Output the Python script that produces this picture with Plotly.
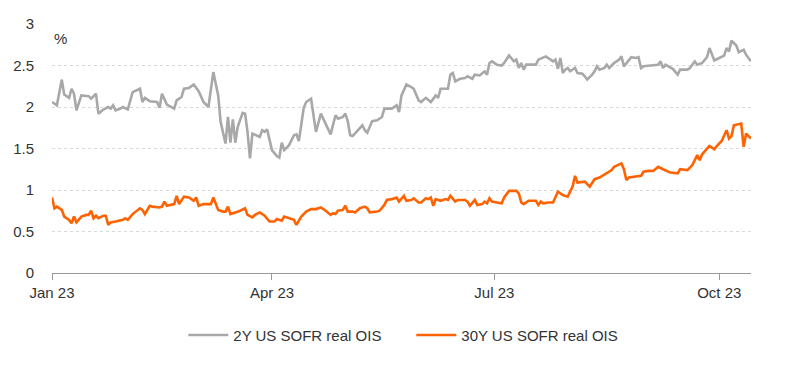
import pandas as pd
import plotly.graph_objects as go

START = pd.Timestamp("2023-01-01")

# 2Y US SOFR real OIS: days since 1 Jan 2023, value (%)
days_2y = [0, 2, 4, 5, 7, 8, 9, 10, 12, 15, 16, 18, 19, 21, 23, 24, 25, 26, 28, 29, 31, 33, 36, 37, 38,
           40, 43, 44, 45, 47, 50, 51, 53, 54, 56, 58, 60, 62, 64, 66, 68, 69, 71, 72, 73, 74, 75, 76, 78,
           79, 80, 81, 82, 84, 85, 86, 87, 88, 89, 90, 92, 93, 94, 95, 97, 99, 100, 101, 103, 104, 106,
           108, 110, 112, 114, 116, 117, 119, 120, 121, 122, 123, 125, 127, 128, 129, 131, 133, 135, 136,
           138, 139, 141, 142, 143, 145, 147, 148, 150, 151, 153, 154, 155, 157, 158, 159, 161, 162, 163,
           164, 165, 167, 169, 170, 172, 173, 175, 176, 177, 178, 179, 180, 182, 184, 185, 187, 189, 190,
           191, 192, 193, 194, 196, 198, 199, 202, 204, 205, 206, 207, 208, 209, 210, 211, 212, 214, 215,
           217, 218, 219, 221, 222, 223, 224, 226, 227, 228, 230, 232, 233, 234, 237, 239, 240, 241, 242,
           245, 248, 249, 250, 251, 253, 254, 256, 257, 260, 261, 263, 264, 266, 268, 269, 271, 273, 275,
           276, 277, 278, 280, 281, 283, 284, 286]
vals_2y = [2.06, 2.02, 2.33, 2.15, 2.11, 2.22, 2.16, 1.96, 2.14, 2.13, 2.10, 2.16, 1.92, 1.97, 2.00, 1.98,
           2.02, 1.96, 1.98, 2.00, 1.97, 2.18, 2.22, 2.06, 2.11,
           2.07, 2.06, 1.99, 2.16, 2.03, 1.98, 2.08, 2.12, 2.22, 2.23, 2.27, 2.19, 2.06, 2.00, 2.42, 2.14,
           1.82, 1.56, 1.88, 1.57, 1.85, 1.57, 1.76, 1.93,
           1.92, 1.70, 1.38, 1.68, 1.65, 1.64, 1.72, 1.70, 1.73, 1.59, 1.48, 1.41, 1.39, 1.57, 1.48, 1.54,
           1.66, 1.67, 1.59, 1.99, 2.06, 2.10,
           1.70, 1.92, 1.80, 1.67, 1.90, 1.86, 1.88, 1.92, 1.83, 1.66, 1.65, 1.71, 1.78, 1.72, 1.69, 1.83,
           1.84, 1.88, 1.98,
           1.98, 1.98, 2.02, 1.94, 2.14, 2.27, 2.24, 2.22, 2.08, 2.06, 2.11, 2.08, 2.06, 2.14, 2.11, 2.22,
           2.22, 2.22, 2.39,
           2.41, 2.31, 2.34, 2.35, 2.37, 2.34, 2.39, 2.38, 2.40, 2.43, 2.39, 2.53, 2.55, 2.51, 2.50, 2.53,
           2.62, 2.55, 2.57,
           2.47, 2.53, 2.45, 2.51, 2.51, 2.51, 2.57, 2.61, 2.57, 2.55, 2.57, 2.46, 2.59, 2.41, 2.45, 2.47,
           2.43, 2.47, 2.41,
           2.40, 2.37, 2.33, 2.39, 2.43, 2.49, 2.45, 2.47, 2.51, 2.47, 2.53, 2.57, 2.61, 2.49, 2.60, 2.59,
           2.60, 2.47, 2.49,
           2.50, 2.51, 2.55, 2.47, 2.51, 2.47, 2.46, 2.39, 2.45, 2.45, 2.47, 2.55, 2.51, 2.53, 2.60, 2.71,
           2.56, 2.59, 2.62,
           2.71, 2.67, 2.80, 2.74, 2.66, 2.69, 2.63, 2.55]

# 30Y US SOFR real OIS: days since 1 Jan 2023, value (%)
days_30y = [0, 1, 2, 4, 5, 7, 8, 9, 10, 12, 14, 15, 16, 17, 18, 19, 21, 22, 23, 24, 26, 29, 30, 31, 33,
            35, 36, 37, 38, 40, 41, 44, 45, 46, 47, 50, 51, 52, 54, 56, 58, 59, 60, 62, 65, 66, 68, 70,
            71, 72, 73, 75, 77, 79, 80, 82, 83, 85, 87, 89, 91, 92, 94, 95, 97, 99, 100, 102, 104, 106,
            108, 110, 112, 114, 115, 116, 117, 119, 120, 121, 123, 124, 126, 128, 129, 130, 133, 134, 136,
            137, 139, 141, 142, 144, 145, 147, 148, 150, 151, 153, 154, 155, 156, 157, 159, 161, 162, 163,
            165, 166, 169, 170, 171, 173, 174, 176, 177, 178, 179, 180, 182, 184, 185, 187, 190, 191, 192,
            193, 195, 197, 198, 199, 200, 201, 203, 205, 207, 209, 211, 213, 214, 215, 217, 218, 220, 221,
            222, 224, 225, 227, 229, 230, 233, 234, 235, 236, 238, 240, 241, 242, 244, 246, 248, 250, 253,
            256, 257, 260, 262, 264, 265, 266, 269, 271, 272, 274, 276, 277, 278, 279, 282, 283, 284, 286]
vals_30y = [0.91, 0.78, 0.80, 0.76, 0.68, 0.64, 0.60, 0.68, 0.61, 0.68, 0.70, 0.70, 0.75, 0.66, 0.69,
            0.66, 0.69, 0.69, 0.58, 0.61, 0.62, 0.64, 0.66, 0.64, 0.71,
            0.76, 0.78, 0.76, 0.71, 0.81, 0.80, 0.79, 0.80, 0.86, 0.81, 0.83, 0.93, 0.83, 0.92, 0.91, 0.87,
            0.91, 0.81, 0.83, 0.83, 0.91, 0.76, 0.74,
            0.74, 0.80, 0.71, 0.73, 0.75, 0.78, 0.70, 0.67, 0.70, 0.73, 0.69, 0.62, 0.62, 0.65, 0.63, 0.68,
            0.66, 0.64, 0.58, 0.68, 0.74, 0.77,
            0.77, 0.79, 0.75, 0.70, 0.72, 0.71, 0.75, 0.76, 0.81, 0.74, 0.74, 0.73, 0.78, 0.80, 0.78, 0.73,
            0.74, 0.75, 0.82,
            0.88, 0.89, 0.91, 0.86, 0.93, 0.87, 0.88, 0.90, 0.85, 0.85, 0.90, 0.89, 0.91, 0.81, 0.89, 0.87,
            0.89, 0.88, 0.93,
            0.86, 0.88, 0.88, 0.86, 0.81, 0.88, 0.82, 0.83, 0.86, 0.84, 0.90, 0.86, 0.85, 0.84, 0.91, 0.99,
            0.99, 0.96, 0.85,
            0.83, 0.87, 0.87, 0.87, 0.82, 0.86, 0.84, 0.85, 0.85, 0.98, 0.94, 0.92, 1.04, 1.17, 1.09, 1.10,
            1.10, 1.04, 1.08,
            1.13, 1.15, 1.17, 1.21, 1.24, 1.28, 1.32, 1.25, 1.12, 1.15, 1.16, 1.17, 1.17, 1.22, 1.23, 1.23,
            1.28, 1.25, 1.21,
            1.20, 1.25, 1.24, 1.30, 1.42, 1.36, 1.43, 1.53, 1.49, 1.53, 1.59, 1.72, 1.62, 1.65, 1.78, 1.80,
            1.52, 1.68, 1.62]

series_names = ["2Y US SOFR real OIS", "30Y US SOFR real OIS"]
series_colors = ["#A8A8A8", "#FF6200"]

tick_dates = ["2023-01-01", "2023-04-01", "2023-07-01", "2023-10-01"]
tick_labels = ["Jan 23", "Apr 23", "Jul 23", "Oct 23"]
y_ticks = [0, 0.5, 1, 1.5, 2, 2.5, 3]
y_labels = ["0", "0.5", "1", "1.5", "2", "2.5", "3"]

def to_dates(days):
    return START + pd.to_timedelta(days, unit="D")

FONT = "Liberation Sans, Arial, sans-serif"

fig = go.Figure()
for d, v, name, col in [(days_2y, vals_2y, series_names[0], series_colors[0]),
                        (days_30y, vals_30y, series_names[1], series_colors[1])]:
    fig.add_trace(go.Scatter(x=to_dates(d), y=v, mode="lines", name=name,
                             line=dict(color=col, width=2.6), hoverinfo="skip"))

fig.update_layout(
    width=800, height=368,
    margin=dict(l=44, r=57, t=16, b=103, autoexpand=False),
    paper_bgcolor="white", plot_bgcolor="white",
    font=dict(family=FONT, size=15, color="#333333"),
    showlegend=True,
    legend=dict(orientation="h", x=0.514, xanchor="center", y=-0.25, yanchor="middle",
                font=dict(size=15, color="#333333"), entrywidth=173, itemwidth=40),
    annotations=[dict(text="%", xref="paper", yref="paper", x=0, y=0.94, xanchor="left",
                      yanchor="middle", showarrow=False, font=dict(size=15, color="#333333"))],
)
fig.update_xaxes(
    type="date", range=[to_dates([0])[0], to_dates([286])[0]],
    tickvals=pd.to_datetime(tick_dates), ticktext=tick_labels, automargin=False,
    showgrid=False, showline=True, linecolor="#999999", linewidth=1,
    ticks="outside", ticklen=6, tickcolor="#999999", tickfont=dict(size=15, color="#333333"),
    zeroline=False,
)
fig.update_yaxes(
    range=[0, 3], tickvals=y_ticks, ticktext=y_labels, automargin=False,
    showgrid=True, gridcolor="#D9D9D9", griddash="dot", gridwidth=1,
    zeroline=False, showline=False, ticks="outside", ticklen=14, tickcolor="rgba(0,0,0,0)",
    tickfont=dict(size=15, color="#333333"),
)

fig.write_html("out.html")
